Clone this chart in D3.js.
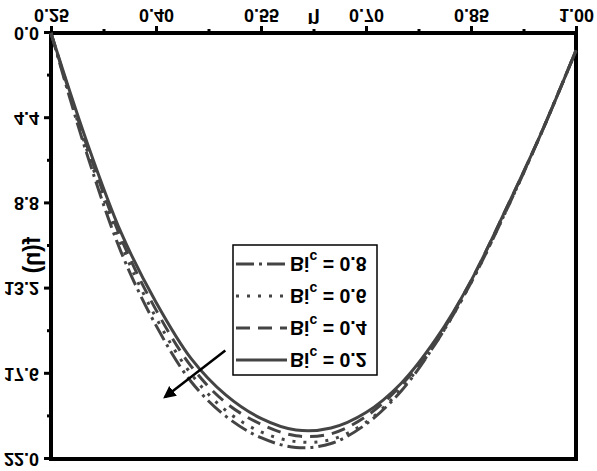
<!DOCTYPE html>
<html>
<head>
<meta charset="utf-8">
<script src="https://cdn.jsdelivr.net/npm/d3@7"></script>
<style>
  body { margin: 0; background: #fff; }
  svg text { font-family: "Liberation Sans", Arial, sans-serif; font-weight: bold; fill: #000; }
</style>
</head>
<body>
<script>
// values (the reference is drawn upside down)
const eta = [0.25, 0.30, 0.35, 0.40, 0.45, 0.50, 0.55, 0.60, 0.65, 0.70, 0.75, 0.80, 0.85, 0.90, 0.95, 1.00];
const fBi02 = [0, 5.5, 10.3, 13.9, 16.8, 18.7, 19.9, 20.5, 20.4, 19.6, 18.1, 15.8, 12.8, 9.1, 5.2, 0.9];
const fBi04 = [0, 5.7, 10.6, 14.3, 17.2, 19.1, 20.2, 20.8, 20.7, 19.8, 18.2, 15.9, 12.8, 9.1, 5.2, 0.9];
const fBi06 = [0, 5.9, 10.9, 14.7, 17.6, 19.5, 20.6, 21.1, 21.0, 20.1, 18.4, 16.0, 12.9, 9.2, 5.2, 0.9];
const fBi08 = [0, 6.1, 11.3, 15.1, 18.0, 19.8, 20.9, 21.4, 21.2, 20.2, 18.5, 16.0, 12.9, 9.2, 5.2, 0.9];
const biLabels = ["0.2", "0.4", "0.6", "0.8"];
const xTicks = [0.25, 0.40, 0.55, 0.70, 0.85, 1.00];
const yTicks = [0, 4.4, 8.8, 13.2, 17.6, 22.0];

const width = 597;
const height = 471;

const series = [
  { label: biLabels[0], values: fBi02, dash: null },
  { label: biLabels[1], values: fBi04, dash: "14,8" },
  { label: biLabels[2], values: fBi06, dash: "3,8" },
  { label: biLabels[3], values: fBi08, dash: "18,5,3,5" }
];

const x = d3.scaleLinear().domain([0.25, 1.00]).range([51, 576]);
const y = d3.scaleLinear().domain([0, 22]).range([438, 12]);

const svg = d3.select("body").append("svg")
  .attr("width", width)
  .attr("height", height);

// whole chart is mirrored top to bottom, like the picture
const g = svg.append("g")
  .attr("transform", `translate(0,${height}) scale(1,-1)`);

const lineColor = "#444";

// minor ticks
const xMinor = d3.pairs(xTicks).map(p => (p[0] + p[1]) / 2);
const yMinor = d3.pairs(yTicks).map(p => (p[0] + p[1]) / 2);

g.append("g")
  .attr("transform", `translate(0,${y(0)})`)
  .call(d3.axisBottom(x).tickValues(xMinor).tickSize(4).tickFormat(""))
  .call(a => a.select(".domain").remove())
  .selectAll("line").attr("stroke", "#000").attr("stroke-width", 3);

g.append("g")
  .attr("transform", `translate(${x(0.25)},0)`)
  .call(d3.axisLeft(y).tickValues(yMinor).tickSize(4).tickFormat(""))
  .call(a => a.select(".domain").remove())
  .selectAll("line").attr("stroke", "#000").attr("stroke-width", 3);

// major axes
const xAxis = g.append("g")
  .attr("transform", `translate(0,${y(0)})`)
  .call(d3.axisBottom(x).tickValues(xTicks).tickSize(7).tickSizeOuter(0).tickPadding(4)
    .tickFormat(d3.format(".2f")));
xAxis.select(".domain").remove();
xAxis.selectAll("line").attr("stroke", "#000").attr("stroke-width", 3);
xAxis.selectAll("text").attr("font-size", 18);

const yAxis = g.append("g")
  .attr("transform", `translate(${x(0.25)},0)`)
  .call(d3.axisLeft(y).tickValues(yTicks).tickSize(7).tickSizeOuter(0).tickPadding(5)
    .tickFormat(d3.format(".1f")));
yAxis.select(".domain").remove();
yAxis.selectAll("line").attr("stroke", "#000").attr("stroke-width", 3);
yAxis.selectAll("text").attr("font-size", 18);

// frame
g.append("rect")
  .attr("x", x(0.25))
  .attr("y", y(22))
  .attr("width", x(1) - x(0.25))
  .attr("height", y(0) - y(22))
  .attr("fill", "none")
  .attr("stroke", "#000")
  .attr("stroke-width", 4);

// curves
const line = d3.line()
  .x((d, i) => x(eta[i]))
  .y(d => y(d))
  .curve(d3.curveCatmullRom.alpha(0.5));

g.selectAll("path.curve")
  .data(series)
  .enter()
  .append("path")
  .attr("class", "curve")
  .attr("d", d => line(d.values))
  .attr("fill", "none")
  .attr("stroke", lineColor)
  .attr("stroke-width", 3)
  .attr("stroke-dasharray", d => d.dash);

// axis titles
g.append("text")
  .attr("x", (x(0.25) + x(1)) / 2)
  .attr("y", 458)
  .attr("text-anchor", "middle")
  .attr("font-size", 20)
  .text("η");

g.append("text")
  .attr("transform", `translate(40,216) rotate(-90)`)
  .attr("text-anchor", "middle")
  .attr("font-size", 23)
  .text("f(η)");

// legend
const legend = g.append("g");
legend.append("rect")
  .attr("x", 233).attr("y", 96)
  .attr("width", 144).attr("height", 130)
  .attr("fill", "#fff")
  .attr("stroke", "#000")
  .attr("stroke-width", 1.5);

const rows = legend.selectAll("g.row")
  .data(series)
  .enter()
  .append("g")
  .attr("class", "row")
  .attr("transform", (d, i) => `translate(0,${111 + i * 32})`);

rows.append("line")
  .attr("x1", 236).attr("x2", 287)
  .attr("stroke", lineColor)
  .attr("stroke-width", 3)
  .attr("stroke-dasharray", d => d.dash);

const label = rows.append("text")
  .attr("x", 290)
  .attr("y", 7)
  .attr("font-size", 19.5);
label.append("tspan").text("Bi");
label.append("tspan").attr("font-size", 14).attr("dy", 5).text("c");
label.append("tspan").attr("dy", -5).text(d => " = " + d.label);

// arrow: increasing Bi_c
const defs = svg.append("defs");
defs.append("marker")
  .attr("id", "head")
  .attr("viewBox", "0 0 10 10")
  .attr("refX", 8).attr("refY", 5)
  .attr("markerWidth", 5).attr("markerHeight", 5)
  .attr("orient", "auto")
  .append("path")
  .attr("d", "M0,0 L10,5 L0,10 Z")
  .attr("fill", "#000");

g.append("line")
  .attr("x1", x(0.499)).attr("y1", y(16.4))
  .attr("x2", x(0.413)).attr("y2", y(18.8))
  .attr("stroke", "#000")
  .attr("stroke-width", 2.5)
  .attr("marker-end", "url(#head)");
</script>
</body>
</html>
